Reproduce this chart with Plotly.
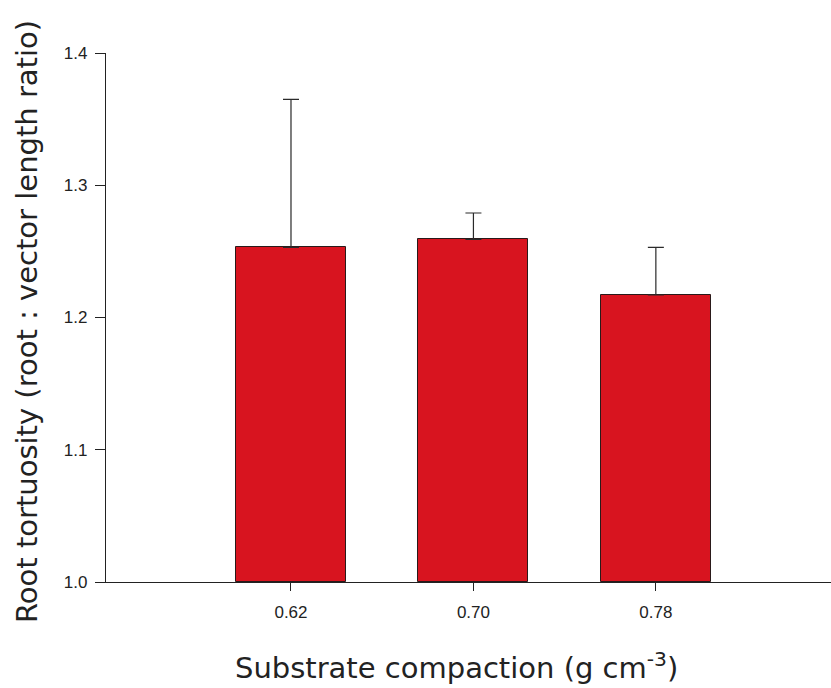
import plotly.graph_objects as go

categories = ["0.62", "0.70", "0.78"]
means = [1.253, 1.259, 1.217]
errors_up = [0.112, 0.020, 0.036]
y_ticks = [1.0, 1.1, 1.2, 1.3, 1.4]
y_tick_labels = ["1.0", "1.1", "1.2", "1.3", "1.4"]

xpos = list(range(len(categories)))

fig = go.Figure()
fig.add_trace(go.Bar(
    x=xpos, y=[m - 1.0 for m in means], base=1.0,
    width=0.603,
    marker=dict(color="#d8141f", line=dict(color="#2a1a1a", width=1)),
    error_y=dict(type="data", symmetric=False, array=errors_up,
                 arrayminus=[0] * len(means), color="#2a2a2a",
                 thickness=1.2, width=8),
    showlegend=False,
))

tickfont = dict(family="Liberation Sans, Arial", size=17, color="#222")

fig.update_layout(
    width=831, height=688,
    margin=dict(l=106, r=0, t=53, b=106),
    paper_bgcolor="white", plot_bgcolor="white",
    bargap=0,
    xaxis=dict(
        range=[-1.014, 2.96], tickmode="array", tickvals=xpos,
        ticktext=categories, showline=True, linecolor="#222",
        linewidth=1.2, ticks="outside", ticklen=8, tickcolor="#222",
        showgrid=False, zeroline=False, tickfont=tickfont,
        ticklabelstandoff=6,
    ),
    yaxis=dict(
        range=[1.0, 1.4], tickmode="array", tickvals=y_ticks,
        ticktext=y_tick_labels, showline=True, linecolor="#222",
        linewidth=1.2, ticks="outside", ticklen=10, tickcolor="#222",
        showgrid=False, zeroline=False, tickfont=tickfont,
        ticklabelstandoff=4,
    ),
    annotations=[
        dict(text="Substrate compaction (g cm<sup>-3</sup>)",
             xref="paper", yref="paper", x=(456.5 - 106) / 725, y=0,
             yshift=-84, xanchor="center", yanchor="middle", showarrow=False,
             font=dict(family="DejaVu Sans, Verdana", size=29, color="#222")),
        dict(text="Root tortuosity (root : vector length ratio)",
             xref="paper", yref="paper", x=0, y=(582 - 322) / 529,
             xshift=-79, textangle=-90, xanchor="center", yanchor="middle",
             showarrow=False,
             font=dict(family="DejaVu Sans, Verdana", size=29, color="#222")),
    ],
)

fig.write_html("out.html",
               config={"displayModeBar": False},
               post_script="document.body.style.margin='0';document.body.style.overflow='hidden';")
